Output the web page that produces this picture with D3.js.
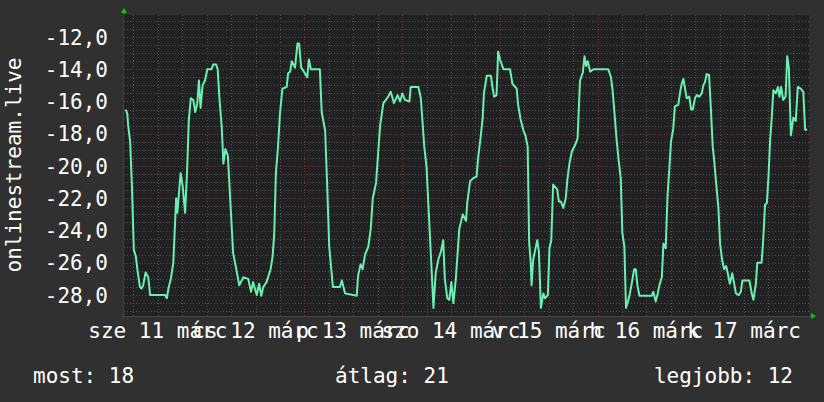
<!DOCTYPE html>
<html><head><meta charset="utf-8">
<script src="https://cdn.jsdelivr.net/npm/d3@7"></script>
<style>html,body{margin:0;padding:0;background:#303030;}svg{display:block;}</style>
</head><body>
<script>
// hours since 2020-03-11 00:00
const hours = [4.1,4.5,4.7,5.2,5.65,6.1,6.6,7.05,7.6,8.0,8.4,9.0,9.65,10.1,13.8,14.2,14.6,15.2,15.8,16.5,16.8,17.6,18.1,18.7,19.2,19.6,20.1,20.7,21.2,21.7,22.1,22.5,23.0,23.6,24.15,25.2,25.6,26.3,26.7,27.1,27.7,28.1,28.6,29.2,30.0,30.5,31.2,32.0,33.0,34.2,34.9,35.4,36.3,36.9,37.4,37.9,38.7,39.7,40.2,40.6,41.0,41.5,42.0,42.6,43.65,44.0,44.5,44.9,45.7,46.3,46.7,47.2,47.9,48.7,49.1,49.6,51.8,52.25,53.1,53.6,54.1,55.0,56.7,57.2,58.0,60.85,61.2,61.8,62.3,62.9,63.7,64.3,64.8,65.6,66.15,66.6,67.4,68.6,69.2,70.0,70.9,71.5,72.05,72.7,73.8,74.1,76.0,76.6,77.45,78.0,78.6,79.7,80.25,80.9,81.55,82.1,82.5,83.1,83.6,84.1,84.6,85.2,86.05,86.9,87.7,88.0,88.7,89.5,90.3,90.7,91.3,91.8,92.1,92.8,93.8,94.2,94.6,95.2,95.6,96.05,96.9,98.5,99.1,100.15,100.5,101.1,101.8,102.3,102.85,103.2,103.6,103.8,104.2,104.7,105.2,105.6,106.1,106.7,107.1,107.8,108.2,108.65,109.1,110.1,110.5,111.0,111.6,112.2,112.6,113.1,113.7,114.5,115.1,115.7,116.4,116.8,117.2,117.6,118.2,119.0,122.65,123.3,123.7,124.1,124.7,125.2,125.7,126.1,126.6,127.0,127.8,128.4,129.0,129.4,129.8,130.3,133.3,133.7,134.3,134.8,135.2,135.8,136.2,136.75,137.2,137.6,138.05,138.6,139.0,139.85,140.3,140.7,141.1,141.5,141.9,142.55,143.0,143.4,143.95,144.4,145.0,145.6,146.0,146.4,146.8,147.4,147.8,148.3,148.7,149.1,149.7,150.1,150.6,151.1,151.6,152.0,152.5,153.1,154.0,154.7,155.2,155.6,157.3,157.9,158.3,158.9,159.25,160.3,160.7,161.15,161.6,162.0,162.4,162.8,163.2,163.8,164.3,164.7,165.1,165.6,166.2,166.6,167.0,167.5,168.1,168.7,169.2,169.9,170.55,171.0,171.5];
const temps = [-16.5,-16.75,-17.45,-18.5,-21.3,-25.2,-25.6,-26.55,-27.5,-27.6,-27.4,-26.6,-26.9,-28.0,-28.0,-28.2,-27.6,-27.0,-26.0,-22.0,-22.9,-20.45,-21.25,-22.9,-20.25,-17.2,-15.8,-15.9,-16.65,-16.1,-14.7,-16.4,-15.0,-14.7,-14.0,-14.0,-13.7,-13.7,-14.0,-15.7,-17.6,-19.85,-18.95,-19.35,-23.1,-25.4,-26.3,-27.4,-26.9,-27.0,-27.8,-27.2,-28.0,-27.3,-28.05,-27.5,-27.2,-26.4,-25.6,-24.15,-20.45,-18.9,-16.75,-15.2,-15.1,-14.25,-14.15,-13.5,-13.9,-12.4,-12.4,-13.9,-14.15,-14.5,-13.4,-14.0,-14.0,-16.65,-17.8,-21.25,-25.0,-27.5,-27.5,-27.1,-27.9,-28.05,-26.8,-26.1,-26.4,-25.5,-25.0,-23.9,-22.0,-21.05,-19.1,-17.5,-16.1,-15.7,-15.4,-16.1,-15.6,-16.0,-15.5,-15.9,-16.0,-15.1,-15.1,-15.8,-18.8,-20.05,-23.1,-28.8,-26.65,-25.8,-25.3,-24.6,-27.0,-28.2,-28.3,-27.2,-28.5,-27.0,-23.9,-23.0,-23.4,-22.3,-20.95,-20.75,-20.65,-19.45,-18.2,-17.0,-15.5,-14.4,-14.4,-15.1,-15.7,-15.6,-12.9,-13.4,-14.0,-14.0,-14.9,-15.2,-16.2,-17.1,-17.8,-18.1,-18.8,-24.7,-26.0,-27.4,-25.8,-25.2,-24.6,-25.3,-28.8,-27.9,-28.2,-28.0,-25.1,-24.6,-21.15,-21.45,-22.2,-22.2,-22.6,-22.0,-20.85,-19.85,-19.1,-18.7,-18.3,-14.7,-14.2,-13.2,-13.8,-13.5,-14.15,-14.0,-14.0,-14.5,-15.3,-16.5,-18.4,-19.65,-20.75,-24.15,-25.0,-28.8,-28.1,-27.3,-26.4,-26.4,-27.4,-28.05,-28.05,-27.8,-28.4,-27.9,-27.4,-26.9,-24.8,-25.1,-21.85,-20.35,-18.5,-17.7,-16.3,-16.2,-15.4,-14.9,-14.6,-15.2,-15.8,-15.7,-16.5,-16.5,-15.8,-15.6,-15.7,-15.5,-15.0,-14.8,-14.3,-14.35,-16.2,-18.8,-19.75,-20.95,-22.6,-24.8,-25.8,-26.4,-26.2,-26.65,-27.3,-26.65,-27.9,-28.0,-27.8,-27.1,-27.1,-27.9,-28.3,-27.3,-26.0,-26.0,-24.6,-22.4,-22.3,-20.65,-18.4,-17.0,-15.3,-15.5,-15.1,-15.7,-15.1,-15.9,-15.7,-13.2,-13.9,-18.1,-17.0,-17.2,-15.1,-15.2,-15.4,-17.75,-17.75];
const yTickValues = [-12,-14,-16,-18,-20,-22,-24,-26,-28];
const dayLabels = ["sze 11 márc","cs 12 márc","p 13 márc","szo 14 márc","v 15 márc","h 16 márc","k 17 márc"];
const dayNumbers = [11,12,13,14,15,16,17];
const axisTitle = "onlinestream.live";
const legendItems = ["most: 18","átlag: 21","legjobb: 12"];
const timeStartHours = 3.69, timeEndHours = 171.95;
const yMin = -29.302, yMax = -10.636;

const W = 824, H = 402;
const plot = {left:124, right:809, top:15, bottom:316};
const base = Date.UTC(2020,2,11);
const toDate = h => new Date(base + h*3600e3);

const x = d3.scaleUtc().domain([toDate(timeStartHours), toDate(timeEndHours)]).range([plot.left, plot.right]);
const y = d3.scaleLinear().domain([yMin, yMax]).range([plot.bottom, plot.top]);

const svg = d3.select("body").append("svg").attr("width", W).attr("height", H);
svg.append("rect").attr("width", W).attr("height", H).attr("fill", "#303030");
svg.append("rect").attr("x", plot.left).attr("y", plot.top)
  .attr("width", plot.right-plot.left).attr("height", plot.bottom-plot.top).attr("fill", "#222222");

const grid = svg.append("g").attr("shape-rendering","crispEdges");
const hMinor = d3.range(-29, -10.6, 0.5).filter(v => Math.abs(v % 2) > 1e-6);
grid.selectAll(".hmin").data(hMinor).join("line")
  .attr("x1", plot.left).attr("x2", plot.right)
  .attr("y1", d => Math.round(y(d))+0.5).attr("y2", d => Math.round(y(d))+0.5)
  .attr("stroke", "#505050").attr("stroke-dasharray", "1,2");
const vMinor = x.ticks(d3.utcHour.every(6)).filter(d => d.getUTCHours() !== 0);
grid.selectAll(".vmin").data(vMinor).join("line")
  .attr("y1", plot.top).attr("y2", plot.bottom)
  .attr("x1", d => Math.round(x(d))+0.5).attr("x2", d => Math.round(x(d))+0.5)
  .attr("stroke", "#505050").attr("stroke-dasharray", "1,2");
grid.selectAll(".hmaj").data(yTickValues).join("line")
  .attr("x1", plot.left).attr("x2", plot.right)
  .attr("y1", d => Math.round(y(d))+0.5).attr("y2", d => Math.round(y(d))+0.5)
  .attr("stroke", "#6e3636").attr("stroke-dasharray", "1,2");
const vMajor = x.ticks(d3.utcDay.every(1));
grid.selectAll(".vmaj").data(vMajor).join("line")
  .attr("y1", plot.top).attr("y2", plot.bottom)
  .attr("x1", d => Math.round(x(d))+0.5).attr("x2", d => Math.round(x(d))+0.5)
  .attr("stroke", "#6e3636").attr("stroke-dasharray", "1,2");

svg.append("line").attr("x1", plot.left-0.5).attr("x2", plot.left-0.5).attr("y1", plot.top-4).attr("y2", plot.bottom+3)
  .attr("stroke", "#444").attr("shape-rendering","crispEdges");
svg.append("line").attr("x1", plot.left-3).attr("x2", plot.right+4).attr("y1", plot.bottom+0.5).attr("y2", plot.bottom+0.5)
  .attr("stroke", "#444").attr("shape-rendering","crispEdges");
svg.append("path").attr("d", `M${plot.left-3},${plot.top-2}L${plot.left+3},${plot.top-2}L${plot.left},${plot.top-7}Z`).attr("fill", "#00d000");
svg.append("path").attr("d", `M${plot.right+2},${plot.bottom-3}L${plot.right+2},${plot.bottom+3}L${plot.right+7},${plot.bottom}Z`).attr("fill", "#00d000");

const data = hours.map((h,i) => ({t: toDate(h), v: temps[i]}));
svg.append("path").datum(data)
  .attr("fill", "none").attr("stroke", "#6af0b4").attr("stroke-width", 2).attr("stroke-linejoin","round")
  .attr("d", d3.line().x(d => x(d.t)).y(d => y(d.v)));

const font = "'DejaVu Sans Mono', monospace";
svg.append("g").selectAll("text").data(yTickValues).join("text")
  .attr("x", 108).attr("y", d => y(d)).attr("dy", "0.36em")
  .attr("text-anchor", "end").attr("fill", "#ffffff")
  .style("font-family", font).style("font-size", "21px")
  .text(d => d3.format(".1f")(d).replace(".", ",").replace("−","-"));

// x labels centered at noon of each day
svg.append("g").selectAll("text").data(dayLabels).join("text")
  .attr("x", (d,i) => x(toDate((dayNumbers[i]-11)*24 + 12)))
  .attr("y", 338).attr("text-anchor", "middle").attr("fill", "#ffffff")
  .style("font-family", font).style("font-size", "21px")
  .text(d => d);

svg.append("text").attr("transform", "translate(21,165) rotate(-90)")
  .attr("text-anchor", "middle").attr("fill", "#ffffff")
  .style("font-family", font).style("font-size", "21px").text(axisTitle);

const legendX = [33, 335, 793];
const legendAnchor = ["start", "start", "end"];
svg.append("g").selectAll("text").data(legendItems).join("text")
  .attr("x", (d,i) => legendX[i]).attr("y", 383).attr("text-anchor", (d,i) => legendAnchor[i])
  .attr("fill", "#ffffff").style("font-family", font).style("font-size", "21px").text(d => d);
</script>
</body></html>
